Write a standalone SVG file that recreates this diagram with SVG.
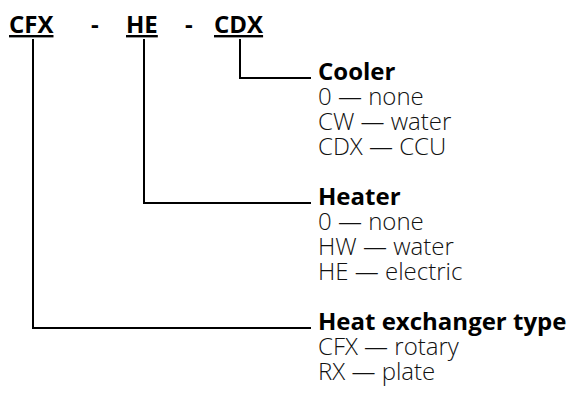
<svg xmlns="http://www.w3.org/2000/svg" width="571" height="393" viewBox="0 0 571 393">
<style>
.code{font-family:"Open Sans","Noto Sans",sans-serif;font-weight:bold;font-size:24px;fill:#000;text-decoration:underline;}
.dash{font-family:"Open Sans","Noto Sans",sans-serif;font-weight:bold;font-size:24px;fill:#000;}
.head{font-family:"Open Sans","Noto Sans",sans-serif;font-weight:bold;font-size:24px;fill:#000;}
.item{font-family:"Open Sans","Noto Sans",sans-serif;font-weight:300;font-size:24px;fill:#111;}
.conn{fill:none;stroke:#000;stroke-width:2;}
</style>
<rect width="571" height="393" fill="#fff"/>
<g id="code">
<text class="code" x="9" y="33">CFX</text>
<text class="dash" x="91" y="33">-</text>
<text class="code" x="126" y="33">HE</text>
<text class="dash" x="185" y="33">-</text>
<text class="code" x="214" y="33">CDX</text>
</g>
<g id="connectors">
<polyline class="conn" points="240,39 240,78 311,78"/>
<polyline class="conn" points="144,39 144,203 311,203"/>
<polyline class="conn" points="33,39 33,328 311,328"/>
</g>
<g id="cooler">
<text class="head" x="318" y="80">Cooler</text>
<text class="item" x="318" y="105">0 — none</text>
<text class="item" x="318" y="130">CW — water</text>
<text class="item" x="318" y="155">CDX — CCU</text>
</g>
<g id="heater">
<text class="head" x="318" y="205">Heater</text>
<text class="item" x="318" y="230">0 — none</text>
<text class="item" x="318" y="255">HW — water</text>
<text class="item" x="318" y="280">HE — electric</text>
</g>
<g id="hx">
<text class="head" x="318" y="330">Heat exchanger type</text>
<text class="item" x="318" y="355">CFX — rotary</text>
<text class="item" x="318" y="380">RX — plate</text>
</g>
</svg>
